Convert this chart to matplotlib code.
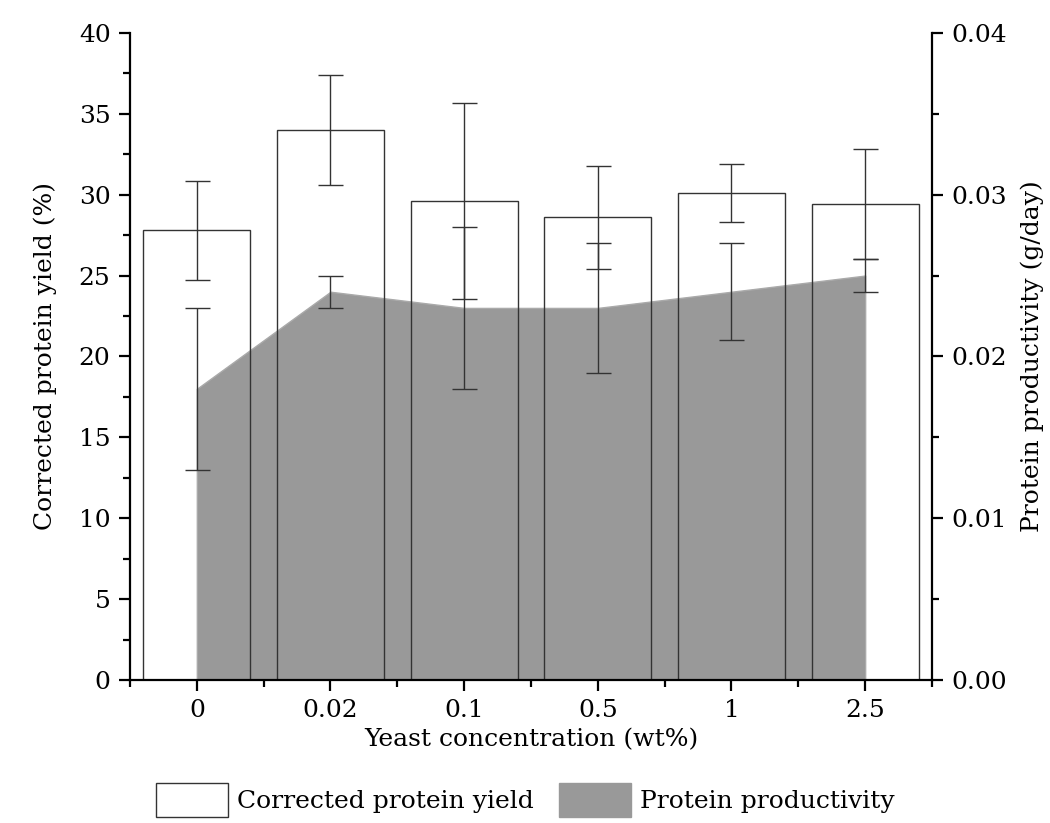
import matplotlib.pyplot as plt
import numpy as np
from matplotlib.patches import Patch
from matplotlib.ticker import MultipleLocator

plt.rcParams['font.family'] = ['DejaVu Serif']

# yeast concentration categories
concentrations = ['0', '0.02', '0.1', '0.5', '1', '2.5']
# corrected protein yield (%) and its error
yield_pct = [27.8, 34.0, 29.6, 28.6, 30.1, 29.4]
yield_err = [3.05, 3.4, 6.05, 3.2, 1.8, 3.4]
# protein productivity (g/day) and its error
productivity = [0.018, 0.024, 0.023, 0.023, 0.024, 0.025]
productivity_err = [0.005, 0.001, 0.005, 0.004, 0.003, 0.001]

x = np.arange(len(concentrations))

fig = plt.figure(figsize=(10.5, 8.23), dpi=100)
ax = fig.add_axes([0.1238, 0.1738, 0.7638, 0.7862])
ax2 = ax.twinx()

# area on the right axis, drawn behind the bars
ax2.fill_between(x, 0, productivity, color='#999999', edgecolor='#aaaaaa', lw=1, zorder=1)
ax2.errorbar(x, productivity, yerr=productivity_err, fmt='none', ecolor='#333333',
             elinewidth=1, capsize=9, capthick=1, zorder=3)
ax2.set_zorder(1)
ax.set_zorder(2)
ax.patch.set_visible(False)

ax.bar(x, yield_pct, width=0.8, facecolor='none', edgecolor='#333333', lw=1, zorder=2)
ax.errorbar(x, yield_pct, yerr=yield_err, fmt='none', ecolor='#333333',
            elinewidth=1, capsize=9, capthick=1, zorder=3)

ax.set_xlim(-0.5, 5.5)
ax.set_ylim(0, 40)
ax2.set_ylim(0, 0.04)

ax.set_xticks(x)
ax.set_xticklabels(concentrations)
ax.set_xticks(np.arange(-0.5, 6, 1), minor=True)
ax.yaxis.set_major_locator(MultipleLocator(5))
ax.yaxis.set_minor_locator(MultipleLocator(2.5))
ax2.yaxis.set_major_locator(MultipleLocator(0.01))
ax2.yaxis.set_minor_locator(MultipleLocator(0.005))
ax2.yaxis.set_major_formatter(plt.FuncFormatter(lambda v, p: f'{v:.2f}'))

for a in (ax, ax2):
    a.spines['top'].set_visible(False)
    for s in a.spines.values():
        s.set_linewidth(1.6)
    a.tick_params(which='major', direction='out', length=8, width=1.6, labelsize=18, pad=6)
    a.tick_params(which='minor', direction='out', length=5, width=1.6)
ax.spines['right'].set_visible(False)
ax2.spines['left'].set_visible(False)
ax2.spines['bottom'].set_visible(False)

ax.set_xlabel('Yeast concentration (wt%)', fontsize=18, labelpad=4)
ax.set_ylabel('Corrected protein yield (%)', fontsize=18, labelpad=16)
ax2.set_ylabel('Protein productivity (g/day)', fontsize=18, labelpad=10)

handles = [Patch(facecolor='white', edgecolor='#333333', lw=1),
           Patch(facecolor='#999999', edgecolor='#999999')]
fig.legend(handles, ['Corrected protein yield', 'Protein productivity'],
           loc='lower center', bbox_to_anchor=(0.5, -0.02), ncol=2, frameon=False,
           fontsize=18, handlelength=2.9, handleheight=1.7, columnspacing=1.0,
           handletextpad=0.35)

fig.savefig('out.png', dpi=100, facecolor='white')
